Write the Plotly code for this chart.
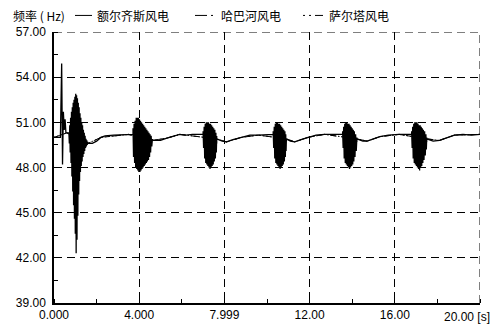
import plotly.graph_objects as go

# ---------------- data ----------------
# smooth frequency trace of 额尔齐斯风电 (time s, Hz) outside oscillation bursts
t_start = [0.0, 0.30, 0.36, 0.40, 0.44, 0.48, 0.52, 0.56, 0.70]
f_start = [50.0, 50.0, 54.9, 48.2, 51.7, 50.5, 51.2, 50.3, 50.3]

# burst 1 (large oscillation) explicit samples
t_b1 = [0.70, 0.72, 0.74, 0.76, 0.78, 0.80, 0.82, 0.84, 0.86, 0.88, 0.90, 0.92, 0.94, 0.96,
        0.98, 1.00, 1.02, 1.04, 1.06, 1.08, 1.10, 1.12, 1.14, 1.16, 1.18, 1.20, 1.22, 1.24,
        1.26, 1.28, 1.30, 1.32, 1.34, 1.36, 1.38, 1.40, 1.42, 1.44, 1.46, 1.48, 1.50, 1.52,
        1.54, 1.56, 1.58, 1.60]
f_b1 = [50.3, 49.6, 50.8, 49.0, 51.3, 48.3, 51.7, 47.4, 52.0, 46.4, 52.3, 45.5, 52.5, 44.6,
        52.7, 43.6, 52.9, 42.3, 52.8, 43.2, 52.6, 44.8, 52.3, 46.2, 52.0, 47.1, 51.6, 47.7,
        51.3, 48.1, 51.0, 48.4, 50.8, 48.7, 50.5, 48.9, 50.3, 49.1, 50.1, 49.3, 49.9, 49.4,
        49.8, 49.5, 49.7, 49.6]

# later bursts: sample times with upper / lower envelope of the oscillation
burst_t = [
    [3.71, 3.76, 3.81, 3.86, 3.91, 3.96, 4.01, 4.06, 4.11, 4.16, 4.21, 4.26, 4.31, 4.36, 4.41, 4.46, 4.51, 4.56, 4.62],
    [7.00, 7.05, 7.10, 7.15, 7.20, 7.25, 7.30, 7.35, 7.40, 7.45, 7.50, 7.55, 7.60, 7.64],
    [10.29, 10.34, 10.39, 10.44, 10.49, 10.54, 10.59, 10.64, 10.69, 10.74, 10.79, 10.84, 10.88, 10.91],
    [13.55, 13.60, 13.65, 13.70, 13.75, 13.80, 13.85, 13.90, 13.95, 14.00, 14.05, 14.10, 14.16, 14.22],
    [16.79, 16.84, 16.89, 16.94, 16.99, 17.04, 17.09, 17.14, 17.19, 17.24, 17.29, 17.34, 17.40, 17.46, 17.50],
]
burst_hi = [
    [50.6, 50.9, 51.1, 51.3, 51.3, 51.3, 51.2, 51.1, 51.0, 50.9, 50.8, 50.7, 50.6, 50.5, 50.4, 50.3, 50.2, 50.1, 49.9],
    [50.4, 50.7, 50.9, 51.0, 51.0, 51.0, 50.9, 50.9, 50.8, 50.7, 50.6, 50.5, 50.3, 50.1],
    [50.4, 50.7, 50.9, 51.0, 51.0, 50.9, 50.9, 50.8, 50.7, 50.6, 50.5, 50.4, 50.2, 50.0],
    [50.4, 50.7, 50.9, 51.0, 51.0, 50.9, 50.9, 50.8, 50.7, 50.6, 50.5, 50.4, 50.2, 50.0],
    [50.4, 50.7, 50.9, 51.0, 51.0, 51.0, 50.9, 50.8, 50.8, 50.7, 50.6, 50.5, 50.4, 50.2, 50.0],
]
burst_lo = [
    [48.7, 48.3, 48.0, 47.9, 47.8, 47.7, 47.7, 47.8, 47.9, 48.0, 48.1, 48.2, 48.3, 48.4, 48.5, 48.7, 49.0, 49.4, 49.8],
    [49.3, 48.6, 48.3, 48.2, 48.1, 48.0, 47.9, 48.0, 48.1, 48.2, 48.4, 48.6, 49.0, 49.6],
    [49.3, 48.6, 48.3, 48.2, 48.1, 48.0, 47.9, 48.0, 48.1, 48.2, 48.4, 48.7, 49.1, 49.7],
    [49.3, 48.6, 48.3, 48.2, 48.1, 48.0, 47.9, 48.0, 48.1, 48.2, 48.4, 48.7, 49.1, 49.7],
    [49.3, 48.6, 48.3, 48.2, 48.1, 48.0, 47.9, 47.8, 48.0, 48.1, 48.3, 48.5, 48.8, 49.2, 49.7],
]

# smooth segments after each burst
seg_t = [
    [1.60, 1.80, 2.00, 2.20, 2.40, 2.80, 3.20, 3.50, 3.71],
    [4.62, 4.80, 5.00, 5.30, 5.60, 5.90, 6.20, 6.50, 7.00],
    [7.64, 7.90, 8.10, 8.40, 8.80, 9.20, 9.60, 10.00, 10.29],
    [10.91, 11.10, 11.30, 11.60, 11.90, 12.30, 12.70, 13.20, 13.55],
    [14.22, 14.50, 14.70, 15.00, 15.30, 15.70, 16.20, 16.79],
    [17.50, 17.80, 18.10, 18.40, 18.80, 19.20, 19.60, 20.00],
]
seg_f = [
    [49.6, 49.6, 49.75, 50.0, 50.1, 50.15, 50.15, 50.2, 50.2],
    [49.8, 49.8, 49.8, 49.95, 50.1, 50.2, 50.15, 50.2, 50.2],
    [49.9, 49.75, 49.7, 49.85, 50.0, 50.15, 50.15, 50.2, 50.2],
    [49.9, 49.75, 49.7, 49.85, 50.0, 50.15, 50.2, 50.2, 50.2],
    [49.9, 49.75, 49.75, 49.9, 50.05, 50.15, 50.2, 50.2],
    [49.9, 49.75, 49.8, 49.95, 50.15, 50.2, 50.15, 50.2],
]

# the other two stations (nearly coincident smooth traces)
t_other = [0.0, 0.60, 1.60, 2.20, 3.50, 4.62, 5.30, 5.90, 7.64, 8.10, 8.80, 9.60, 10.91, 11.30, 11.90, 12.70,
           14.22, 14.70, 15.30, 16.20, 17.50, 18.10, 18.80, 19.60, 20.00]
f_hbh = [50.0, 50.3, 49.6, 50.0, 50.2, 49.8, 49.95, 50.2, 49.9, 49.7, 50.0, 50.15, 49.9, 49.7, 50.0, 50.2,
         49.9, 49.75, 50.05, 50.2, 49.9, 49.8, 50.15, 50.15, 50.2]
f_sert = [50.0, 50.3, 49.6, 50.0, 50.2, 49.8, 49.95, 50.2, 49.9, 49.7, 50.0, 50.15, 49.9, 49.7, 50.0, 50.2,
          49.9, 49.75, 50.05, 50.2, 49.9, 49.8, 50.15, 50.15, 50.2]

names = ["额尔齐斯风电", "哈巴河风电", "萨尔塔风电"]
x_ticks = [0, 4, 8, 12, 16, 20]
x_labels = ["0.000", "4.000", "7.999", "12.00", "16.00", ""]
y_ticks = [39, 42, 45, 48, 51, 54, 57]
y_labels = ["39.00", "42.00", "45.00", "48.00", "51.00", "54.00", "57.00"]

# ---------------- assemble main trace ----------------
t_main = list(t_start) + list(t_b1) + list(seg_t[0])
f_main = list(f_start) + list(f_b1) + list(seg_f[0])
for k in range(len(burst_t)):
    tb, hi, lo = burst_t[k], burst_hi[k], burst_lo[k]
    for i in range(len(tb)):
        t_main.append(tb[i]); f_main.append(hi[i])
        tn = tb[i + 1] if i + 1 < len(tb) else tb[i]
        t_main.append((tb[i] + tn) / 2); f_main.append(lo[i])
    t_main += seg_t[k + 1]
    f_main += seg_f[k + 1]

fig = go.Figure()
fig.add_trace(go.Scatter(x=t_other, y=f_hbh, mode="lines", name=names[1], showlegend=False,
                         line=dict(color="black", width=1, dash="6px,2px,1px,2px")))
fig.add_trace(go.Scatter(x=t_other, y=f_sert, mode="lines", name=names[2], showlegend=False,
                         line=dict(color="black", width=1, dash="1px,2px,1px,2px,6px,2px")))
fig.add_trace(go.Scatter(x=t_main, y=f_main, mode="lines", name=names[0], showlegend=False,
                         line=dict(color="black", width=1.3)))

# pixel -> paper helpers for the hand-drawn legend (plot area 54..480 x 32..310)
def px(x):
    return (x - 54) / 426.0

def py(y):
    return (310 - y) / 278.0

ly = py(15)
shapes = [
    # dashed frame lines at top and right (grid at range ends)
    dict(type="line", xref="x", yref="y", x0=0, x1=20, y0=57, y1=57,
         line=dict(color="black", width=1, dash="8px,5px")),
    dict(type="line", xref="x", yref="y", x0=20, x1=20, y0=39, y1=57,
         line=dict(color="black", width=1, dash="8px,5px")),
    # legend samples
    dict(type="line", xref="paper", yref="paper", x0=px(75), x1=px(92), y0=ly, y1=ly,
         line=dict(color="black", width=1)),
    dict(type="line", xref="paper", yref="paper", x0=px(195), x1=px(207), y0=ly, y1=ly,
         line=dict(color="black", width=1)),
    dict(type="line", xref="paper", yref="paper", x0=px(211), x1=px(213), y0=ly, y1=ly,
         line=dict(color="black", width=1)),
    dict(type="line", xref="paper", yref="paper", x0=px(303), x1=px(305), y0=ly, y1=ly,
         line=dict(color="black", width=1)),
    dict(type="line", xref="paper", yref="paper", x0=px(309), x1=px(311), y0=ly, y1=ly,
         line=dict(color="black", width=1)),
    dict(type="line", xref="paper", yref="paper", x0=px(315), x1=px(323), y0=ly, y1=ly,
         line=dict(color="black", width=1)),
]

cjk = "Noto Sans CJK SC"
annotations = [
    dict(text="频率 ( Hz)", xref="paper", yref="paper", x=px(11), y=ly, xanchor="left",
         yanchor="middle", showarrow=False, font=dict(size=12, family=cjk)),
    dict(text=names[0], xref="paper", yref="paper", x=px(95), y=ly, xanchor="left",
         yanchor="middle", showarrow=False, font=dict(size=12, family=cjk)),
    dict(text=names[1], xref="paper", yref="paper", x=px(219), y=ly, xanchor="left",
         yanchor="middle", showarrow=False, font=dict(size=12, family=cjk)),
    dict(text=names[2], xref="paper", yref="paper", x=px(327), y=ly, xanchor="left",
         yanchor="middle", showarrow=False, font=dict(size=12, family=cjk)),
    dict(text="20.00 [s]", xref="paper", yref="paper", x=px(492), y=py(315), xanchor="right",
         yanchor="top", showarrow=False, font=dict(size=12)),
]

font = "Liberation Sans, Arial, sans-serif"
fig.update_layout(
    width=492, height=334,
    margin=dict(l=54, r=12, t=32, b=24),
    paper_bgcolor="white", plot_bgcolor="white",
    font=dict(family=font, size=12, color="black"),
    showlegend=False,
    xaxis=dict(range=[0, 20], tickvals=x_ticks, ticktext=x_labels, showgrid=True,
               gridcolor="black", griddash="8px,5px", gridwidth=1,
               showline=True, linecolor="black", linewidth=1.5, ticks="", zeroline=False,
               minor=dict(dtick=2, tick0=0, ticks="inside", ticklen=4, tickcolor="black", showgrid=False),
               tickfont=dict(size=12, color="black")),
    yaxis=dict(range=[39, 57], tickvals=y_ticks, ticktext=y_labels, showgrid=True,
               gridcolor="black", griddash="8px,5px", gridwidth=1,
               showline=True, linecolor="black", linewidth=1.5, ticks="", zeroline=False,
               minor=dict(dtick=1.5, tick0=39, ticks="inside", ticklen=4, tickcolor="black", showgrid=False),
               tickfont=dict(size=12, color="black"), ticklabelstandoff=4),
    shapes=shapes,
    annotations=annotations,
)

fig.write_html("out.html")
